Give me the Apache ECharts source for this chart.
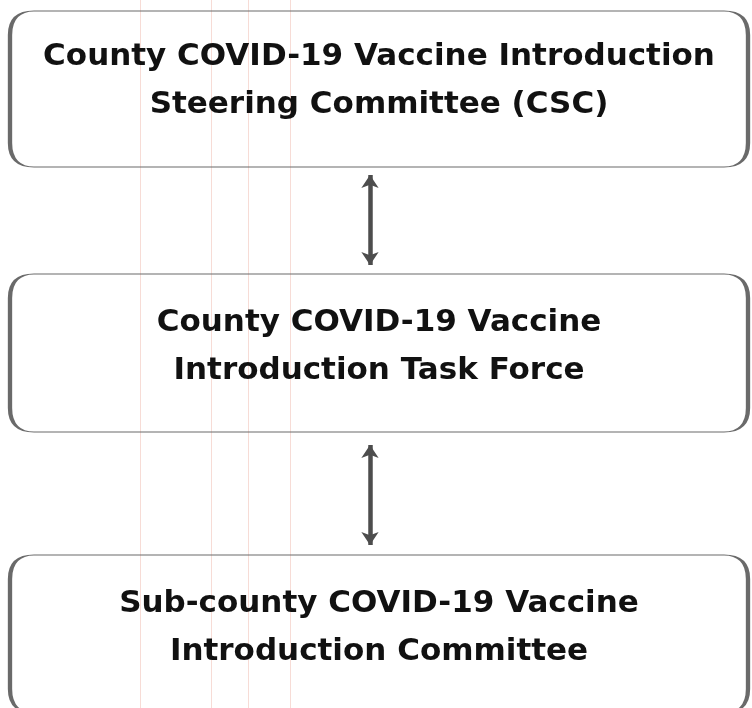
<!DOCTYPE html>
<html lang="en">
<head>
    <meta charset="UTF-8">
    <title>County COVID-19 Vaccine Introduction structure</title>
    <script src="https://cdn.jsdelivr.net/npm/echarts@6/dist/echarts.min.js"></script>
    <style>
        html, body { margin: 0; padding: 0; background: #fff; }
        #chart { width: 752px; height: 708px; }
    </style>
</head>
<body>
<div id="chart"></div>
<script type="text/javascript">
    // the three committees, top to bottom
    var levelNames = [
        'County COVID-19 Vaccine Introduction\nSteering Committee (CSC)',
        'County COVID-19 Vaccine\nIntroduction Task Force',
        'Sub-county COVID-19 Vaccine\nIntroduction Committee'
    ];
    // two-way links between levels (index pairs)
    var levelLinks = [[0, 1], [1, 2]];

    // layout (pixels)
    var boxX = 379, boxW = 738;
    var boxY = [89, 353, 634];
    var boxH = [156, 158, 158];
    var textShift = [-8, -6, -6];
    var arrowX = 370;
    var arrowEnds = [[175, 265], [445, 545]];
    // faint scanner streaks on the page
    var streakX = [140, 211, 248, 290];

    function roundBox(w, h, r) {
        return 'path://M' + r + ',0 L' + (w - r) + ',0 Q' + w + ',0 ' + w + ',' + r +
            ' L' + w + ',' + (h - r) + ' Q' + w + ',' + h + ' ' + (w - r) + ',' + h +
            ' L' + r + ',' + h + ' Q0,' + h + ' 0,' + (h - r) +
            ' L0,' + r + ' Q0,0 ' + r + ',0 Z';
    }

    var nodes = [];
    var links = [];
    for (var i = 0; i < levelNames.length; i++) {
        nodes.push({
            name: levelNames[i],
            value: [boxX, boxY[i]],
            symbol: roundBox(boxW, boxH[i], 24),
            symbolSize: [boxW, boxH[i]],
            label: { offset: [0, textShift[i]] }
        });
    }
    for (var j = 0; j < levelLinks.length; j++) {
        var a = 'end' + j + 'a', b = 'end' + j + 'b';
        nodes.push({ name: a, value: [arrowX, arrowEnds[j][0]], symbolSize: 0, label: { show: false } });
        nodes.push({ name: b, value: [arrowX, arrowEnds[j][1]], symbolSize: 0, label: { show: false } });
        links.push({ source: a, target: b });
    }

    var myChart = echarts.init(document.getElementById('chart'));
    var option = {
        backgroundColor: '#fff',
        animation: false,
        grid: { left: 0, right: 0, top: 0, bottom: 0 },
        xAxis: { type: 'value', min: 0, max: 752, show: false },
        yAxis: { type: 'value', min: 0, max: 708, inverse: true, show: false },
        graphic: streakX.map(function (x) {
            return {
                type: 'line', z: -1, silent: true,
                shape: { x1: x + 0.5, y1: 0, x2: x + 0.5, y2: 708 },
                style: { stroke: '#f7dcd6', lineWidth: 1 }
            };
        }),
        series: [{
            type: 'graph',
            coordinateSystem: 'cartesian2d',
            layout: 'none',
            silent: true,
            data: nodes,
            links: links,
            edgeSymbol: ['arrow', 'arrow'],
            edgeSymbolSize: [13, 13],
            itemStyle: { color: 'rgba(255,255,255,0)', borderColor: '#6a6a6a', borderWidth: 2 },
            lineStyle: { color: '#4d4d4d', width: 4.5, opacity: 1, curveness: 0 },
            label: {
                show: true,
                position: 'inside',
                color: '#111',
                fontFamily: 'DejaVu Sans',
                fontWeight: 'bold',
                fontSize: 31,
                lineHeight: 48,
                align: 'center'
            },
            emphasis: { disabled: true }
        }]
    };
    myChart.setOption(option);
</script>
</body>
</html>
